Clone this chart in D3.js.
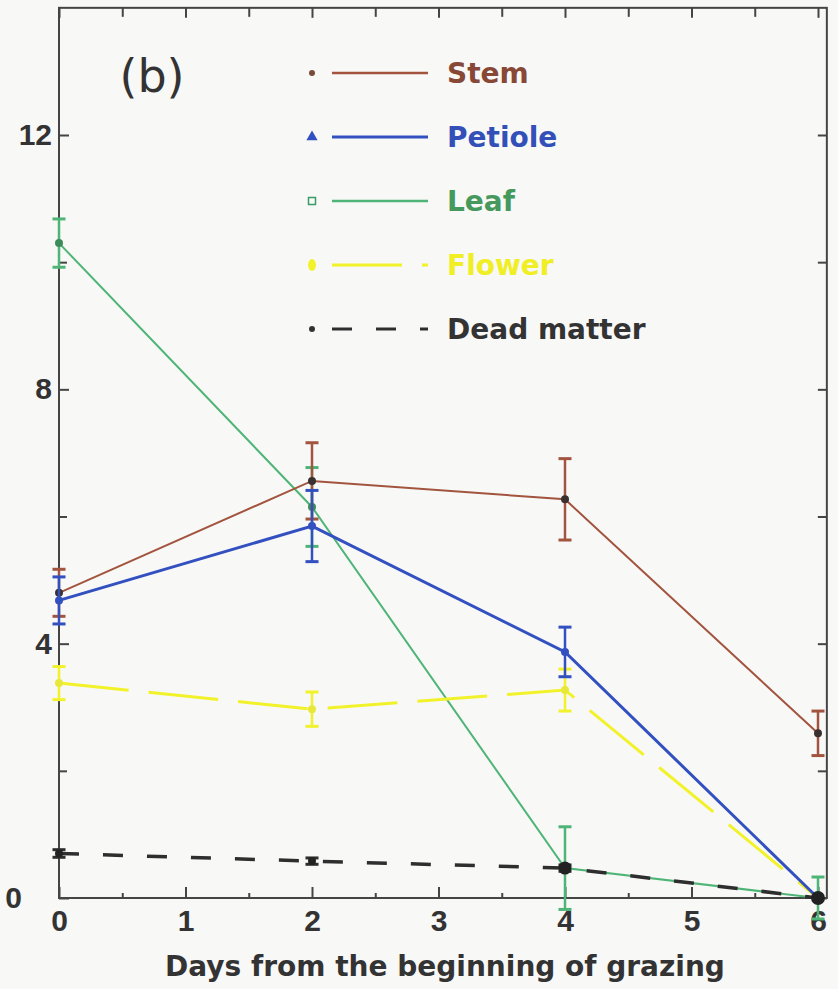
<!DOCTYPE html>
<html>
<head>
<meta charset="utf-8">
<script src="https://cdn.jsdelivr.net/npm/d3@7"></script>
<style>
  html, body { margin: 0; padding: 0; background: #f8f8f7; }
  svg { display: block; }
</style>
</head>
<body>
<svg id="chart" width="838" height="989"></svg>
<script>
// Sampling days
const days = [0, 2, 4, 6];

// Mean biomass per plant part, with error (±) values
const stem = [4.8, 6.56, 6.27, 2.59];
const stemErr = [0.37, 0.6, 0.64, 0.35];
const petiole = [4.68, 5.85, 3.87, 0];
const petioleErr = [0.37, 0.56, 0.39, 0];
const leaf = [10.3, 6.15, 0.47, 0];
const leafErr = [0.38, 0.62, 0.65, 0.33];
const flower = [3.38, 2.97, 3.27, 0];
const flowerErr = [0.26, 0.27, 0.33, 0];
const dead = [0.7, 0.58, 0.47, 0];
const deadErr = [0.06, 0.05, 0.05, 0];

const seriesNames = ["Stem", "Petiole", "Leaf", "Flower", "Dead matter"];
const xTickLabels = ["0", "1", "2", "3", "4", "5", "6"];
const yTickLabels = ["0", "4", "8", "12"];
const panelLabel = "(b)";
const xTitle = "Days from the beginning of grazing";

const svg = d3.select("#chart");

const x = d3.scaleLinear().domain([0, 6]).range([59, 818]);
const y = d3.scaleLinear().domain([0, 12]).range([898, 135]);
const xMax = 6.07, yMax = 14;

const axisColor = "#454545";
const numFont = "'Liberation Sans', Arial, sans-serif";
const txtFont = "'DejaVu Sans', sans-serif";

// Frame
svg.append("rect")
  .attr("x", x(0)).attr("y", y(yMax))
  .attr("width", x(xMax) - x(0)).attr("height", y(0) - y(yMax))
  .attr("fill", "none").attr("stroke", axisColor).attr("stroke-width", 2);

// Axes: major and minor ticks on all sides, pointing inward
function styleAxis(g) {
  g.select(".domain").remove();
  g.selectAll(".tick line").attr("stroke", axisColor).attr("stroke-width", 2);
}
const xMajor = d3.range(0, 7);
const xMinor = d3.range(0.5, 6, 1);
const yMajor = yTickLabels.map(Number);
const yMinor = [2, 6, 10];

svg.append("g").attr("transform", `translate(0,${y(0)})`)
  .call(d3.axisBottom(x).tickValues(xMajor).tickSizeInner(-11).tickSizeOuter(0)
    .tickPadding(12).tickFormat((d, i) => xTickLabels[i]))
  .call(styleAxis)
  .call(g => g.selectAll("text").attr("font-family", numFont).attr("font-weight", "bold")
    .attr("font-size", 30).attr("fill", "#333"));
svg.append("g").attr("transform", `translate(0,${y(0)})`)
  .call(d3.axisBottom(x).tickValues(xMinor).tickSizeInner(-5).tickSizeOuter(0).tickFormat(""))
  .call(styleAxis);
svg.append("g").attr("transform", `translate(0,${y(yMax)})`)
  .call(d3.axisTop(x).tickValues(xMajor).tickSizeInner(-10).tickSizeOuter(0).tickFormat(""))
  .call(styleAxis);
svg.append("g").attr("transform", `translate(0,${y(yMax)})`)
  .call(d3.axisTop(x).tickValues(xMinor).tickSizeInner(-9).tickSizeOuter(0).tickFormat(""))
  .call(styleAxis);

svg.append("g").attr("transform", `translate(${x(0)},0)`)
  .call(d3.axisLeft(y).tickValues(yMajor).tickSizeInner(-10).tickSizeOuter(0)
    .tickPadding(7).tickFormat((d, i) => yTickLabels[i]))
  .call(styleAxis)
  .call(g => g.selectAll("text").attr("font-family", numFont).attr("font-weight", "bold")
    .attr("font-size", 30).attr("fill", "#333"))
  .call(g => g.selectAll(".tick").filter(d => d === 0).select("text").attr("x", -37));
svg.append("g").attr("transform", `translate(${x(0)},0)`)
  .call(d3.axisLeft(y).tickValues(yMinor).tickSizeInner(-8).tickSizeOuter(0).tickFormat(""))
  .call(styleAxis);
svg.append("g").attr("transform", `translate(${x(xMax)},0)`)
  .call(d3.axisRight(y).tickValues(yMajor.concat(yMinor)).tickSizeInner(-9).tickSizeOuter(0).tickFormat(""))
  .call(styleAxis);

// Series definitions
const series = [
  { name: seriesNames[2], vals: leaf, err: leafErr, color: "#4fb577", width: 2, dash: null, marker: "square", mfill: "#3d8d5a", text: "#46995c" },
  { name: seriesNames[3], vals: flower, err: flowerErr, color: "#f2f22a", width: 3, dash: "70,20", marker: "drop", mfill: "#e8e83a", text: "#f0ee25" },
  { name: seriesNames[0], vals: stem, err: stemErr, color: "#a2543e", width: 2, dash: null, marker: "circle", mfill: "#3a3030", text: "#874836" },
  { name: seriesNames[1], vals: petiole, err: petioleErr, color: "#3350c0", width: 3, dash: null, marker: "triangle", mfill: "#3350c0", text: "#3350b8" },
  { name: seriesNames[4], vals: dead, err: deadErr, color: "#2e2e2e", width: 3.5, dash: "20,24", marker: "circle", mfill: "#222", text: "#333" }
];

const line = d3.line().x(d => x(d.day)).y(d => y(d.v));

series.forEach(s => {
  const pts = days.map((d, i) => ({ day: d, v: s.vals[i], e: s.err[i] }));
  const g = svg.append("g");
  // error bars
  pts.filter(p => p.e > 0).forEach(p => {
    g.append("line").attr("x1", x(p.day)).attr("x2", x(p.day))
      .attr("y1", y(p.v - p.e)).attr("y2", y(p.v + p.e))
      .attr("stroke", s.color).attr("stroke-width", 2.5);
    [p.v - p.e, p.v + p.e].forEach(v => {
      g.append("line").attr("x1", x(p.day) - 6.5).attr("x2", x(p.day) + 6.5)
        .attr("y1", y(v)).attr("y2", y(v))
        .attr("stroke", s.color).attr("stroke-width", 3);
    });
  });
  // line
  g.append("path").datum(pts).attr("d", line)
    .attr("fill", "none").attr("stroke", s.color).attr("stroke-width", s.width)
    .attr("stroke-dasharray", s.dash);
  // points
  g.selectAll("circle.pt").data(pts).join("circle")
    .attr("cx", p => x(p.day)).attr("cy", p => y(p.v))
    .attr("r", p => (s.name === "Dead matter" && p.day >= 4) ? (p.day === 6 ? 7 : 6.5) : 4)
    .attr("fill", s.mfill);
});

// Legend
const legX0 = 332, legX1 = 428, legMark = 312, legText = 447;
series.slice().sort((a, b) => seriesNames.indexOf(a.name) - seriesNames.indexOf(b.name))
  .forEach((s, i) => {
    const ly = 73 + i * 64;
    svg.append("line").attr("x1", legX0).attr("x2", legX1).attr("y1", ly).attr("y2", ly)
      .attr("stroke", s.color).attr("stroke-width", s.width === 2 ? 2.5 : 3)
      .attr("stroke-dasharray", s.dash);
    if (s.marker === "circle") {
      svg.append("circle").attr("cx", legMark).attr("cy", ly).attr("r", 3)
        .attr("fill", s.name === "Stem" ? "#7a4a3a" : "#333");
    } else if (s.marker === "triangle") {
      svg.append("path").attr("d", d3.symbol(d3.symbolTriangle, 55)())
        .attr("transform", `translate(${legMark},${ly})`).attr("fill", s.color);
    } else if (s.marker === "square") {
      svg.append("rect").attr("x", legMark - 3.5).attr("y", ly - 3.5).attr("width", 7).attr("height", 7)
        .attr("fill", "none").attr("stroke", "#3d9a66").attr("stroke-width", 1.5);
    } else {
      svg.append("ellipse").attr("cx", legMark).attr("cy", ly).attr("rx", 4).attr("ry", 6)
        .attr("fill", "#f2f22a");
    }
    svg.append("text").attr("x", legText).attr("y", ly + 10)
      .attr("font-family", txtFont).attr("font-weight", "bold").attr("font-size", 28)
      .attr("fill", s.text).text(s.name);
  });

// Panel label
svg.append("text").attr("x", 152).attr("y", 92).attr("text-anchor", "middle")
  .attr("font-family", txtFont).attr("font-size", 46).attr("fill", "#333").text(panelLabel);

// X axis title
svg.append("text").attr("x", 445).attr("y", 976).attr("text-anchor", "middle")
  .attr("font-family", txtFont).attr("font-weight", "bold").attr("font-size", 28)
  .attr("fill", "#333").text(xTitle);
</script>
</body>
</html>
